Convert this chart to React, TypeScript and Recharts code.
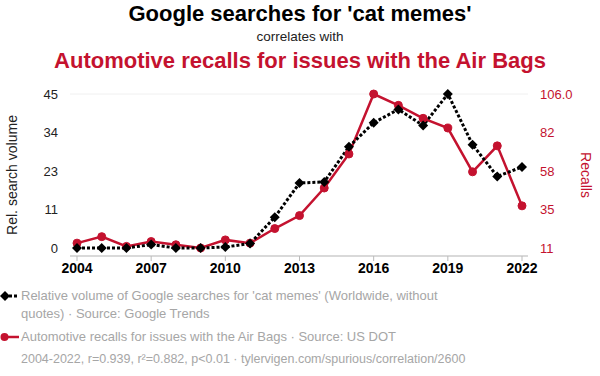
import React from 'react';
import { LineChart, Line, XAxis, YAxis, CartesianGrid } from 'recharts';

const years = [2004, 2005, 2006, 2007, 2008, 2009, 2010, 2011, 2012, 2013, 2014, 2015, 2016, 2017, 2018, 2019, 2020, 2021, 2022];
const searchVolume = [0, 0, 0, 1, 0, 0, 0.3, 1.3, 9, 19, 19.3, 29.6, 36.6, 40.5, 35.8, 45, 30.2, 20.9, 23.7];
const recalls = [14, 18, 12, 15, 13, 11, 16, 14, 23, 31, 48, 69, 106, 99, 91, 85, 58, 74, 37];

const xTicks = [2004, 2007, 2010, 2013, 2016, 2019, 2022];
const leftTicks = [0, 11.25, 22.5, 33.75, 45];
const leftTickLabels = ['0', '11', '23', '34', '45'];
const rightTicks = [11, 34.75, 58.5, 82.25, 106];
const rightTickLabels = ['11', '35', '58', '82', '106.0'];

const RED = '#c4122f';
const FONT = '"Liberation Sans", Arial, Helvetica, sans-serif';

const data = years.map((year, i) => ({ year, search: searchVolume[i], recalls: recalls[i] }));

const Diamond = (props: any) => {
  const { cx, cy, index } = props;
  if (cx == null || cy == null) return <g key={`d-${index}`} />;
  const s = 5;
  return <path key={`d-${index}`} d={`M${cx},${cy - s}L${cx + s},${cy}L${cx},${cy + s}L${cx - s},${cy}Z`} fill="#000" />;
};

const App: React.FC = () => {
  return (
    <div style={{ position: 'fixed', left: 0, top: 0, width: 600, height: 376, background: '#fff', fontFamily: FONT, overflow: 'hidden' }}>
      <div style={{ position: 'absolute', top: 0, width: 600, textAlign: 'center', fontSize: 22, fontWeight: 'bold', color: '#000', lineHeight: '28px' }}>
        Google searches for 'cat memes'
      </div>
      <div style={{ position: 'absolute', top: 29, width: 600, textAlign: 'center', fontSize: 13.5, color: '#222', lineHeight: '16px' }}>
        correlates with
      </div>
      <div style={{ position: 'absolute', top: 47, width: 600, textAlign: 'center', fontSize: 22, fontWeight: 'bold', color: RED, lineHeight: '28px' }}>
        Automotive recalls for issues with the Air Bags
      </div>

      <div style={{ position: 'absolute', top: 80, left: 0 }}>
        <LineChart width={600} height={206} data={data} margin={{ top: 14, right: 18, bottom: 0, left: 16 }}>
          <CartesianGrid vertical={false} stroke="#f0f0f0" strokeWidth={1} />
          <XAxis
            dataKey="year"
            type="number"
            domain={[2004, 2022]}
            ticks={xTicks}
            padding={{ left: 7, right: 6 }}
            tick={{ fontSize: 14, fontWeight: 'bold', fill: '#000', fontFamily: FONT }}
            stroke="#bbb"
            tickSize={5}
            tickMargin={2}
            height={30}
          />
          <YAxis
            yAxisId="left"
            domain={[0, 45]}
            ticks={leftTicks}
            tickFormatter={(v: number) => leftTickLabels[leftTicks.indexOf(v)]}
            axisLine={false}
            tickLine={false}
            tick={{ fontSize: 13, fill: '#222', fontFamily: FONT }}
            width={54}
            tickMargin={6}
            padding={{ bottom: 8 }}
            label={{ value: 'Rel. search volume', angle: -90, position: 'insideLeft', offset: -4, style: { fontSize: 14, fill: '#222', fontFamily: FONT, textAnchor: 'middle' } }}
          />
          <YAxis
            yAxisId="right"
            orientation="right"
            domain={[11, 106]}
            ticks={rightTicks}
            tickFormatter={(v: number) => rightTickLabels[rightTicks.indexOf(v)]}
            axisLine={false}
            tickLine={false}
            tick={{ fontSize: 13, fill: RED, fontFamily: FONT }}
            width={54}
            tickMargin={6}
            padding={{ bottom: 8 }}
            label={{ value: 'Recalls', angle: 90, position: 'insideRight', offset: -4, style: { fontSize: 14, fill: RED, fontFamily: FONT, textAnchor: 'middle' } }}
          />
          <Line
            yAxisId="right"
            dataKey="recalls"
            stroke={RED}
            strokeWidth={2.5}
            dot={{ r: 4, fill: RED, stroke: RED, strokeWidth: 1 }}
            isAnimationActive={false}
          />
          <Line
            yAxisId="left"
            dataKey="search"
            stroke="#000"
            strokeWidth={3}
            strokeDasharray="3 2"
            dot={Diamond}
            isAnimationActive={false}
          />
        </LineChart>
      </div>

      <div style={{ position: 'absolute', top: 287, left: 0, width: 600, fontSize: 13, color: '#a6a6a6', lineHeight: '18px' }}>
        <div style={{ position: 'relative', paddingLeft: 21, width: 420 }}>
          <svg width={20} height={12} style={{ position: 'absolute', left: 0, top: 3 }}>
            <line x1={4} y1={6} x2={19} y2={6} stroke="#000" strokeWidth={3} strokeDasharray="3 2" />
            <path d="M5,1L10,6L5,11L0,6Z" fill="#000" />
          </svg>
          Relative volume of Google searches for 'cat memes' (Worldwide, without quotes) · Source: Google Trends
        </div>
        <div style={{ position: 'relative', paddingLeft: 21, marginTop: 5 }}>
          <svg width={20} height={12} style={{ position: 'absolute', left: 0, top: 3 }}>
            <line x1={4} y1={6} x2={19} y2={6} stroke={RED} strokeWidth={2.5} />
            <circle cx={4.5} cy={6} r={4} fill={RED} />
          </svg>
          Automotive recalls for issues with the Air Bags · Source: US DOT
        </div>
        <div style={{ paddingLeft: 21, marginTop: 4, fontSize: 12.5 }}>
          2004-2022, r=0.939, r²=0.882, p&lt;0.01 · tylervigen.com/spurious/correlation/2600
        </div>
      </div>
    </div>
  );
};

export default App;
